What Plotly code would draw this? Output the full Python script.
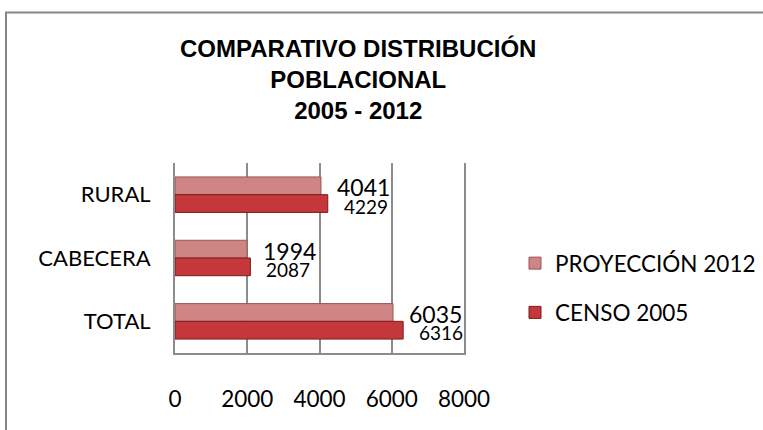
import plotly.graph_objects as go

categories = ["RURAL", "CABECERA", "TOTAL"]
proyeccion_2012 = [4041, 1994, 6035]
censo_2005 = [4229, 2087, 6316]
x_ticks = [0, 2000, 4000, 6000, 8000]

W, H = 763, 430
L, R, T, B = 175, W - 464, 163, H - 353
pw, ph = W - L - R, H - T - B

def px_x(p):
    return (p - L) / pw

def px_y(p):
    return (H - B - p) / ph

fig = go.Figure()
fig.add_trace(go.Bar(
    y=categories, x=proyeccion_2012, orientation="h", name="PROYECCIÓN 2012",
    marker=dict(color="#d08585", line=dict(color="#9a5555", width=1)),
    legendgroup="p",
))
fig.add_trace(go.Bar(
    y=categories, x=censo_2005, orientation="h", name="CENSO 2005",
    marker=dict(color="#c4373a", line=dict(color="#7c1a1a", width=1)),
    legendgroup="c",
))

annotations = []
for cat, v in zip(categories, proyeccion_2012):
    annotations.append(dict(x=v, y=cat, xref="x", yref="y", text=str(v), showarrow=False,
                            xanchor="left", yanchor="middle", xshift=14, yshift=7.5,
                            font=dict(family="Lato", size=23, color="black")))
for cat, v in zip(categories, censo_2005):
    annotations.append(dict(x=v, y=cat, xref="x", yref="y", text=str(v), showarrow=False,
                            xanchor="left", yanchor="middle", xshift=14, yshift=-11.5,
                            font=dict(family="Lato", size=19, color="black")))
annotations.append(dict(
    x=px_x(357.5), y=px_y(79.5), xref="paper", yref="paper",
    text="COMPARATIVO DISTRIBUCIÓN<br>POBLACIONAL<br>2005 - 2012",
    showarrow=False, xanchor="center", yanchor="middle", align="center",
    font=dict(family="Liberation Sans", size=24, color="black", weight="bold")))

fig.update_layout(
    width=W, height=H,
    margin=dict(l=L, r=R, t=T, b=B, autoexpand=False),
    paper_bgcolor="white", plot_bgcolor="white",
    barmode="group", bargap=0.44, bargroupgap=0,
    font=dict(family="Lato", size=22, color="black"),
    annotations=annotations,
    showlegend=True,
    legend=dict(x=px_x(515), y=px_y(242), xanchor="left", yanchor="top",
                xref="paper", yref="paper",
                font=dict(family="Lato", size=22.5, color="black"),
                tracegroupgap=17, traceorder="grouped",
                bgcolor="rgba(0,0,0,0)", itemwidth=30),
    shapes=[dict(type="rect", xref="paper", yref="paper",
                 x0=px_x(6), x1=px_x(800), y0=px_y(460), y1=px_y(12.5),
                 line=dict(color="#858585", width=2), fillcolor="rgba(0,0,0,0)", layer="below")],
)
fig.update_xaxes(range=[0, 8000], tickvals=x_ticks, ticktext=[str(t) for t in x_ticks],
                 showgrid=True, gridcolor="#8c8c8c", gridwidth=1.5,
                 showline=True, linecolor="#8c8c8c", linewidth=2,
                 zeroline=False, ticks="", ticklabelstandoff=25,
                 tickfont=dict(family="Lato", size=22.5, color="black"))
fig.update_yaxes(autorange="reversed", showgrid=False,
                 showline=True, linecolor="#8c8c8c", linewidth=2, mirror=True,
                 ticks="", ticklabelstandoff=18,
                 tickfont=dict(family="Lato", size=22, color="black"))

fig.write_html("out.html", config={"displayModeBar": False},
               post_script="document.body.style.margin='0px';document.body.style.overflow='hidden';")
